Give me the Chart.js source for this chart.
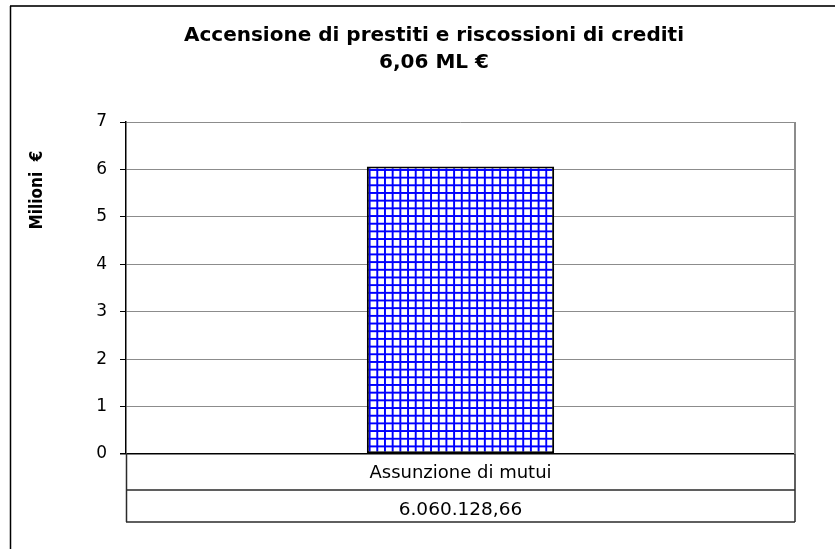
<!DOCTYPE html>
<html>
<head>
<meta charset="utf-8">
<script src="https://cdn.jsdelivr.net/npm/chart.js@4.4.1/dist/chart.umd.min.js"></script>
<style>
  html, body { margin: 0; padding: 0; background: #ffffff; }
  #wrap { width: 835px; height: 549px; position: relative; }
</style>
</head>
<body>
<div id="wrap"><canvas id="chart" width="835" height="549"></canvas></div>
<script>
// Categorie e importi (euro)
const categories = ['Assunzione di mutui'];
const amountsEuro = [6060128.66];
// Valori in milioni di euro per le barre
const valuesMillions = amountsEuro.map(v => v / 1e6);
// Etichette dell'asse verticale
const yTickLabels = ['0', '1', '2', '3', '4', '5', '6', '7'];

const titleLine1 = 'Accensione di prestiti e riscossioni di crediti';
const yAxisTitle = 'Milioni  \u20AC';

function formatEuro(v) {
  const fixed = v.toFixed(2);
  const [intPart, dec] = fixed.split('.');
  const grouped = intPart.replace(/\B(?=(\d{3})+(?!\d))/g, '.');
  return grouped + ',' + dec;
}
const totalMillions = valuesMillions.reduce((a, b) => a + b, 0);
const titleLine2 = totalMillions.toFixed(2).replace('.', ',') + ' ML \u20AC';

// Trama a griglia blu per la barra
function makeGridPattern(ctx) {
  const c = document.createElement('canvas');
  c.width = 8; c.height = 8;
  const p = c.getContext('2d');
  p.fillStyle = '#ffffff';
  p.fillRect(0, 0, 8, 8);
  p.fillStyle = '#0000ff';
  p.fillRect(0, 0, 8, 2);
  p.fillRect(0, 0, 2, 8);
  const pat = ctx.createPattern(c, 'repeat');
  if (pat.setTransform) pat.setTransform(new DOMMatrix().scale(0.96));
  return pat;
}

const ctx = document.getElementById('chart').getContext('2d');

const decorations = {
  id: 'decorations',
  afterDraw(chart) {
    const c = chart.ctx;
    const area = chart.chartArea;
    const xScale = chart.scales.x;
    c.save();

    // Cornice esterna
    c.strokeStyle = '#333333';
    c.lineWidth = 2;
    c.beginPath();
    c.moveTo(10, 6);
    c.lineTo(835, 6);
    c.stroke();
    c.strokeStyle = '#000000';
    c.lineWidth = 1.5;
    c.beginPath();
    c.moveTo(10.5, 6);
    c.lineTo(10.5, 549);
    c.stroke();

    // Titolo
    c.fillStyle = '#000000';
    c.textAlign = 'center';
    c.textBaseline = 'alphabetic';
    c.font = 'bold 20px "DejaVu Sans"';
    c.fillText(titleLine1, 434, 41);
    c.fillText(titleLine2, 434, 68);

    // Titolo asse verticale
    c.save();
    c.translate(42, 190);
    c.rotate(-Math.PI / 2);
    c.font = 'bold 17px "DejaVu Sans Condensed"';
    c.textAlign = 'center';
    c.fillText(yAxisTitle, 0, 0);
    c.restore();

    // Bordo destro dell'area del grafico
    c.strokeStyle = '#8c8c8c';
    c.lineWidth = 2;
    c.beginPath();
    c.moveTo(area.right, area.top);
    c.lineTo(area.right, area.bottom);
    c.stroke();

    // Tabella dati sotto l'asse
    const rowH1 = 36, rowH2 = 32;
    const top = area.bottom;
    const r1 = top + rowH1;
    const r2 = r1 + rowH2;
    c.strokeStyle = '#2b2b2b';
    c.lineWidth = 1.5;
    c.beginPath();
    c.moveTo(area.left, r1); c.lineTo(area.right, r1);
    c.moveTo(area.left, r2); c.lineTo(area.right, r2);
    c.moveTo(area.left + 0.5, top); c.lineTo(area.left + 0.5, r2);
    c.moveTo(area.right, top); c.lineTo(area.right, r2);
    c.stroke();

    c.fillStyle = '#000000';
    c.textAlign = 'center';
    c.textBaseline = 'middle';
    categories.forEach((cat, i) => {
      const x = xScale.getPixelForValue(i);
      c.font = '18px "DejaVu Sans"';
      c.fillText(cat, x, top + 19);
      c.font = '18.5px "DejaVu Sans"';
      c.fillText(formatEuro(amountsEuro[i]), x, r1 + 20);
    });

    c.restore();
  }
};

new Chart(ctx, {
  type: 'bar',
  data: {
    labels: categories,
    datasets: [{
      data: valuesMillions,
      backgroundColor: makeGridPattern(ctx),
      borderColor: '#000000',
      borderWidth: 2,
      borderSkipped: false,
      barPercentage: 0.28,
      categoryPercentage: 1.0
    }]
  },
  options: {
    responsive: false,
    animation: false,
    devicePixelRatio: 1,
    layout: { padding: { left: 0, top: 122, right: 40, bottom: 95 } },
    plugins: {
      legend: { display: false },
      title: { display: false },
      tooltip: { enabled: false }
    },
    scales: {
      x: { display: false },
      y: {
        min: 0,
        max: 7,
        afterFit(scale) { scale.width = 126; },
        afterBuildTicks(scale) {
          scale.ticks = yTickLabels.map(t => ({ value: Number(t) }));
        },
        ticks: {
          stepSize: 1,
          padding: 13,
          color: '#000000',
          font: { family: '"DejaVu Sans"', size: 17 },
          callback: (v, i) => yTickLabels[i]
        },
        grid: {
          color: ctx2 => ctx2.tick && ctx2.tick.value === 0 ? '#000000' : '#8c8c8c',
          tickColor: '#000000',
          tickLength: 6,
          lineWidth: ctx2 => ctx2.tick && ctx2.tick.value === 0 ? 1.5 : 1
        },
        border: { color: '#000000', width: 1.5 }
      }
    }
  },
  plugins: [decorations]
});
</script>
</body>
</html>
